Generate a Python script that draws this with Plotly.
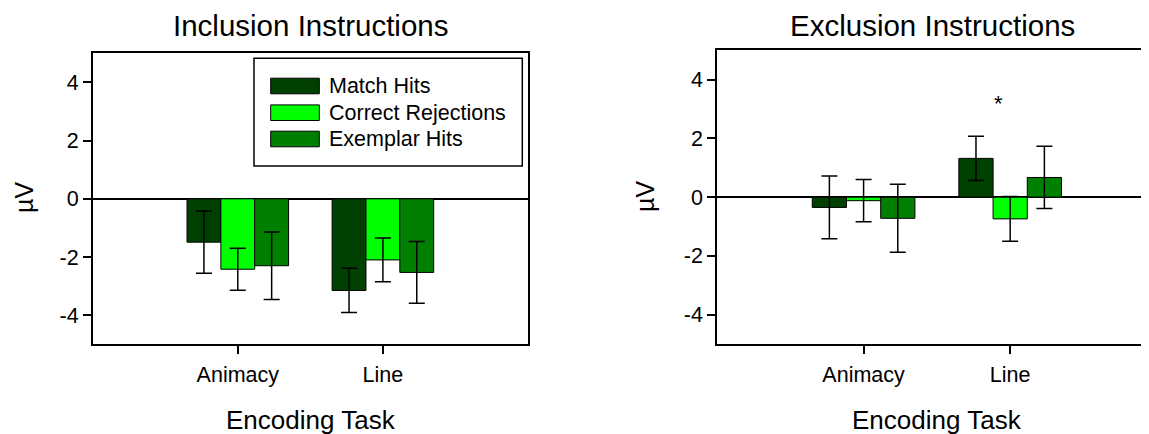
import plotly.graph_objects as go

# data (mean amplitude, uV, with error bars)
categories = ["Animacy", "Line"]
series = ["Match Hits", "Correct Rejections", "Exemplar Hits"]
colors = ["#004000", "#00FF00", "#008000"]
ytick_vals = [-4, -2, 0, 2, 4]
ytick_text = ["-4", "-2", "0", "2", "4"]

incl_match = [-1.49, -3.15]
incl_cr = [-2.42, -2.10]
incl_ex = [-2.30, -2.53]
incl_match_err = [1.07, 0.76]
incl_cr_err = [0.72, 0.75]
incl_ex_err = [1.16, 1.06]

excl_match = [-0.35, 1.32]
excl_cr = [-0.12, -0.74]
excl_ex = [-0.72, 0.67]
excl_match_err = [1.07, 0.75]
excl_cr_err = [0.72, 0.76]
excl_ex_err = [1.16, 1.06]

# page body has an 8px margin, so the figure is 8px smaller than the window
OFF = 8
W, H = 1149 - OFF, 434 - OFF
FONT = "Arial, Liberation Sans, sans-serif"


def px(x):
    return (x - OFF) / W


def py(y):
    return 1 - (y - OFF) / H


fig = go.Figure()

incl = [(incl_match, incl_match_err), (incl_cr, incl_cr_err), (incl_ex, incl_ex_err)]
excl = [(excl_match, excl_match_err), (excl_cr, excl_cr_err), (excl_ex, excl_ex_err)]

for i, (vals, errs) in enumerate(incl):
    fig.add_trace(go.Bar(
        x=categories, y=vals, name=series[i], xaxis="x", yaxis="y",
        marker=dict(color=colors[i], line=dict(color="black", width=1)),
        error_y=dict(type="data", array=errs, color="black", thickness=1.5, width=8),
        showlegend=False, offsetgroup=str(i)))

for i, (vals, errs) in enumerate(excl):
    fig.add_trace(go.Bar(
        x=categories, y=vals, name=series[i], xaxis="x2", yaxis="y2",
        marker=dict(color=colors[i], line=dict(color="black", width=1)),
        error_y=dict(type="data", array=errs, color="black", thickness=1.5, width=8),
        showlegend=False, offsetgroup=str(i)))

axis_common = dict(showgrid=False, linecolor="black", linewidth=1.5, ticks="outside",
                   ticklen=8, tickwidth=1.5, tickcolor="black",
                   tickfont=dict(family=FONT, size=21.5, color="black"))

fig.update_layout(
    width=W, height=H, margin=dict(l=0, r=0, t=0, b=0),
    paper_bgcolor="white", plot_bgcolor="white",
    barmode="group", bargap=0.3, bargroupgap=0,
    showlegend=False,
    xaxis=dict(domain=[px(92.7), px(528)], range=[-1, 2], anchor="y", mirror=True,
               showline=True, zeroline=False, ticklabelstandoff=2, **axis_common),
    yaxis=dict(domain=[py(344.3), py(53.3)], range=[-5, 5], anchor="x", mirror=True,
               showline=True, tickvals=ytick_vals, ticktext=ytick_text, zeroline=True,
               zerolinecolor="black", zerolinewidth=1.5, **axis_common),
    xaxis2=dict(domain=[px(717), 1], range=[-1, 1.947], anchor="y2", mirror=True,
                showline=True, zeroline=False, ticklabelstandoff=2, **axis_common),
    yaxis2=dict(domain=[py(344), py(50.3)], range=[-5, 5], anchor="x2", mirror=False,
                showline=True, tickvals=ytick_vals, ticktext=ytick_text, zeroline=True,
                zerolinecolor="black", zerolinewidth=1.5, **axis_common),
)


def label(text, x, y, size, **kw):
    d = dict(text=text, x=x, y=y, xref="paper", yref="paper", showarrow=False,
             xanchor="center", yanchor="middle",
             font=dict(family=FONT, size=size, color="black"))
    d.update(kw)
    return d


ann = []
# titles
ann.append(label("Inclusion Instructions", px(310.4), py(25), 29.5, height=30))
ann.append(label("Exclusion Instructions", px(932.6), py(25), 29.5, height=30))
# axis titles
for cx, cy in [(310.6, 420), (936.6, 420)]:
    ann.append(label("Encoding Task", px(cx), py(cy), 26))
for cx, cy in [(24, 198), (645, 197)]:
    ann.append(label("µV", px(cx), py(cy), 25, textangle=-90))
# significance marker
ann.append(dict(text="*", x=0.92, y=3.2, xref="x2", yref="y2", showarrow=False,
                xanchor="center", yanchor="middle",
                font=dict(family=FONT, size=22, color="black")))

# legend drawn by hand (wide swatches like the original)
shapes = [dict(type="rect", xref="paper", yref="paper", x0=px(254), x1=px(522.3),
               y0=py(166), y1=py(58.3), line=dict(color="black", width=1.5),
               fillcolor="white", layer="above")]
row_y = [86, 112.7, 139]
for i, name in enumerate(series):
    shapes.append(dict(type="rect", xref="paper", yref="paper", x0=px(270.7), x1=px(319.3),
                       y0=py(row_y[i] + 7.8), y1=py(row_y[i] - 7.8),
                       line=dict(color="black", width=1), fillcolor=colors[i], layer="above"))
    ann.append(label(name, px(327), py(row_y[i]), 21.5, xanchor="left"))

fig.update_layout(annotations=ann, shapes=shapes)

fig.write_html("out.html")
